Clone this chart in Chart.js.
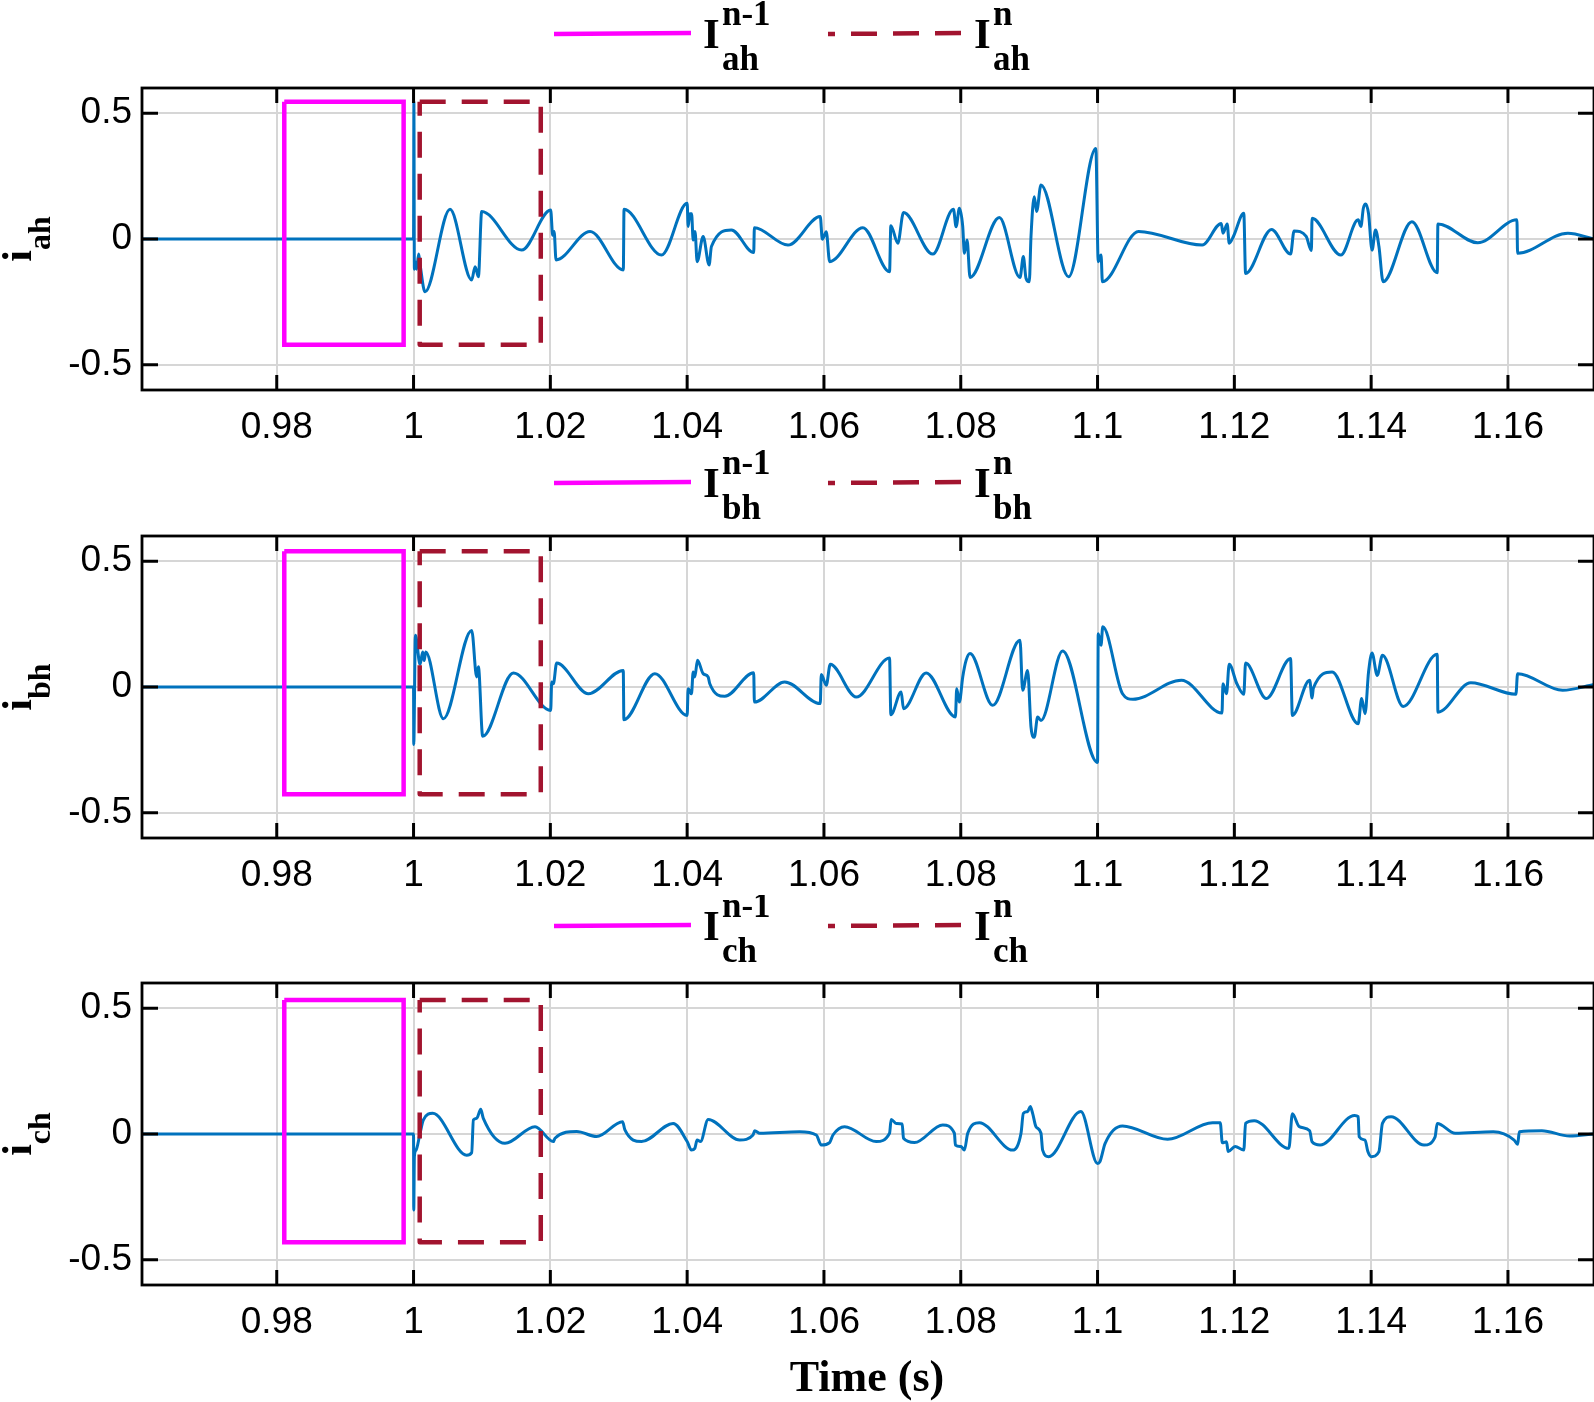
<!DOCTYPE html>
<html>
<head>
<meta charset="utf-8">
<script src="https://cdn.jsdelivr.net/npm/chart.js@4.4.1/dist/chart.umd.min.js"></script>
<style>
body { margin: 0; background: #fff; }
#wrap { position: relative; width: 1594px; height: 1402px; overflow: hidden; }
canvas { position: absolute; left: 0; }
</style>
</head>
<body>
<div id="wrap">
<canvas id="pa" width="1594" height="448" style="top:0px"></canvas>
<canvas id="pb" width="1594" height="447" style="top:448px"></canvas>
<canvas id="pc" width="1594" height="507" style="top:895px"></canvas>
</div>
<script>
// axis ticks
const xTicks = [0.98, 1.0, 1.02, 1.04, 1.06, 1.08, 1.1, 1.12, 1.14, 1.16];
const yTicks = [-0.5, 0, 0.5];

// i_ah
const tA = [0.9603, 1.0, 1.00005, 1.00012, 1.00024, 1.00045, 1.00075, 1.00095, 1.00168, 1.00533, 1.0085, 1.009, 1.00948, 1.00996, 1.0158, 1.02005, 1.02034, 1.02055, 1.02083, 1.0258, 1.03067, 1.03077, 1.03625, 1.04, 1.04015, 1.04039, 1.04065, 1.04088, 1.04115, 1.04146, 1.04234, 1.04321, 1.04355, 1.04647, 1.04973, 1.04983, 1.05474, 1.05946, 1.05976, 1.06034, 1.06083, 1.06569, 1.06959, 1.06978, 1.0708, 1.07163, 1.07591, 1.07893, 1.07932, 1.0798, 1.08029, 1.08053, 1.08092, 1.08136, 1.08564, 1.08866, 1.08915, 1.08954, 1.09002, 1.09027, 1.09075, 1.09109, 1.09173, 1.09577, 1.09975, 1.1001, 1.10051, 1.10071, 1.106, 1.1153, 1.11809, 1.11834, 1.11895, 1.11925, 1.11986, 1.12138, 1.12164, 1.12544, 1.12822, 1.12873, 1.1305, 1.13126, 1.13136, 1.13557, 1.1381, 1.1385, 1.13886, 1.13922, 1.13962, 1.14013, 1.14064, 1.14114, 1.14175, 1.14596, 1.14966, 1.14976, 1.15558, 1.16131, 1.16141, 1.16876, 1.17258];
const iA = [0, 0, 0.546, -0.12, -0.09, -0.12, -0.06, -0.10, -0.21, 0.118, -0.163, -0.11, -0.15, 0.109, -0.044, 0.115, 0.015, 0.03, -0.083, 0.03, -0.123, 0.118, -0.064, 0.142, 0.05, 0.10, 0.10, -0.004, 0.03, -0.09, 0.01, -0.103, -0.03, 0.036, -0.054, 0.045, -0.024, 0.089, -0.001, 0.029, -0.09, 0.045, -0.13, 0.053, -0.017, 0.105, -0.06, 0.118, 0.049, 0.122, 0.049, -0.057, -0.004, -0.153, 0.085, -0.153, -0.07, -0.156, -0.17, 0.01, 0.168, 0.109, 0.215, -0.15, 0.36, -0.09, -0.064, -0.17, 0.03, -0.024, 0.062, 0.023, 0.06, -0.017, 0.01, 0.102, -0.137, 0.038, -0.06, 0.032, 0.01, -0.046, 0.082, -0.064, 0.076, 0.05, 0.122, 0.139, 0.1, -0.044, 0.036, -0.03, -0.17, 0.069, -0.134, 0.06, -0.015, 0.076, -0.057, 0.023, 0];

// i_bh
const tB = [0.9603, 1.0, 1.00003, 1.00027, 1.00095, 1.00134, 1.00155, 1.00178, 1.00436, 1.0085, 1.00923, 1.00948, 1.01011, 1.01459, 1.02005, 1.0202, 1.02044, 1.02092, 1.02555, 1.03066, 1.03075, 1.03528, 1.04, 1.04015, 1.04063, 1.04088, 1.04112, 1.04151, 1.04234, 1.04307, 1.04331, 1.0455, 1.04973, 1.04983, 1.05426, 1.05946, 1.05961, 1.06034, 1.06092, 1.06472, 1.06959, 1.06978, 1.07129, 1.07163, 1.07494, 1.07922, 1.07941, 1.0798, 1.08029, 1.08078, 1.08136, 1.08467, 1.08866, 1.08905, 1.08978, 1.09027, 1.09075, 1.09124, 1.09173, 1.09489, 1.1, 1.1001, 1.10051, 1.10076, 1.10365, 1.10517, 1.11226, 1.11819, 1.11834, 1.11885, 1.11925, 1.12037, 1.12138, 1.12164, 1.12468, 1.12822, 1.12848, 1.13101, 1.13136, 1.13155, 1.1343, 1.1381, 1.13861, 1.13911, 1.13962, 1.14013, 1.14089, 1.14165, 1.14469, 1.14966, 1.14976, 1.15457, 1.16116, 1.16141, 1.168, 1.17258];
const iB = [0, 0, -0.228, 0.206, 0.09, 0.139, 0.105, 0.139, -0.126, 0.225, 0.04, 0.08, -0.196, 0.056, -0.093, 0.02, 0.013, 0.095, -0.027, 0.066, -0.13, 0.053, -0.113, -0.007, -0.027, 0.06, 0.04, 0.106, 0.053, 0.04, 0.013, -0.037, 0.057, -0.06, 0.02, -0.066, 0.05, 0.007, 0.09, -0.04, 0.115, -0.11, -0.02, -0.086, 0.056, -0.119, -0.007, -0.06, 0.04, 0.106, 0.133, -0.073, 0.186, -0.013, 0.066, -0.159, -0.2, -0.119, -0.133, 0.143, -0.3, 0.212, 0.166, 0.239, -0.027, -0.049, 0.027, -0.103, 0.013, -0.027, 0.09, 0.013, -0.029, 0.095, -0.046, 0.113, -0.113, 0.027, -0.044, -0.005, 0.06, -0.146, -0.046, -0.106, 0.06, 0.135, 0.046, 0.126, -0.077, 0.13, -0.1, 0.017, -0.029, 0.053, -0.013, 0.01];

// i_ch
const tC = [0.9603, 1.0, 1.00003, 1.00012, 1.00036, 1.00095, 1.00144, 1.0028, 1.00777, 1.0085, 1.00875, 1.00923, 1.00982, 1.0102, 1.01337, 1.01776, 1.02044, 1.02068, 1.02385, 1.02677, 1.03056, 1.0309, 1.03333, 1.03796, 1.04, 1.04063, 1.04112, 1.04146, 1.04195, 1.04307, 1.04769, 1.04963, 1.04988, 1.05061, 1.05645, 1.05888, 1.05961, 1.06083, 1.06132, 1.06302, 1.06764, 1.06959, 1.06983, 1.07056, 1.07144, 1.07163, 1.07324, 1.07737, 1.07907, 1.07922, 1.08005, 1.08053, 1.08102, 1.08272, 1.08759, 1.08881, 1.08915, 1.08978, 1.09017, 1.09051, 1.091, 1.09173, 1.09197, 1.09284, 1.09756, 1.1, 1.10035, 1.10111, 1.10365, 1.11024, 1.11682, 1.11794, 1.11824, 1.11885, 1.1191, 1.12012, 1.12138, 1.12164, 1.1229, 1.12797, 1.12848, 1.12949, 1.13101, 1.13136, 1.13253, 1.13759, 1.1381, 1.13825, 1.13911, 1.13952, 1.14003, 1.14114, 1.14165, 1.14292, 1.14773, 1.14935, 1.14966, 1.15229, 1.15786, 1.16091, 1.16141, 1.16167, 1.16496, 1.16901, 1.17258];
const iC = [0, 0, -0.302, -0.09, -0.064, 0.003, 0.056, 0.082, -0.084, -0.074, 0.056, 0.062, 0.098, 0.062, -0.037, 0.029, -0.03, -0.017, 0.01, -0.01, 0.049, 0.016, -0.03, 0.042, -0.03, -0.064, -0.057, -0.024, -0.03, 0.058, -0.024, -0.004, 0.013, 0.003, 0.009, -0.004, -0.044, -0.034, -0.004, 0.029, -0.03, 0.003, 0.058, 0.042, 0.04, -0.017, -0.034, 0.036, 0.003, -0.044, -0.05, -0.064, 0.003, 0.045, -0.064, 0.003, 0.082, 0.089, 0.109, 0.082, 0.029, 0.003, -0.064, -0.09, 0.089, -0.117, -0.11, -0.037, 0.032, -0.021, 0.045, 0.045, -0.035, -0.031, -0.07, -0.05, -0.064, 0.042, 0.053, -0.057, 0.08, 0.029, 0.013, -0.031, -0.044, 0.074, 0.069, -0.011, -0.024, -0.07, -0.09, -0.07, 0.042, 0.069, -0.044, -0.011, 0.042, 0.003, 0.009, -0.024, -0.041, 0.009, 0.013, -0.008, 0];

// window boxes: previous cycle (n-1) and present cycle (n)
const boxPrevT = [0.9811, 0.99855];
const boxCurT = [1.0009, 1.0186];
const boxTop = [0.545, 0.539, 0.532];
const boxBottom = [-0.42, -0.426, -0.43];

const subs = ['ah', 'bh', 'ch'];

const BLUE = '#0072bd';
const MAGENTA = '#ff00ff';
const DARKRED = '#a2142f';
const SERIF = '"Liberation Serif", "Times New Roman", serif';
const SANS = '"Liberation Sans", Arial, sans-serif';

function rect(t, top, bottom) {
    return [
        {x: t[0], y: top}, {x: t[1], y: top}, {x: t[1], y: bottom},
        {x: t[0], y: bottom}, {x: t[0], y: top}
    ];
}

const decor = {
    id: 'decor',
    afterDraw(chart, args, opts) {
        const ctx = chart.ctx;
        const a = chart.chartArea;
        const xs = chart.scales.x;
        const ys = chart.scales.y;
        ctx.save();

        // frame + inward ticks
        ctx.strokeStyle = '#000';
        ctx.lineWidth = 3;
        ctx.beginPath();
        for (const v of xTicks) {
            const px = xs.getPixelForValue(v);
            ctx.moveTo(px, a.top); ctx.lineTo(px, a.top + 15);
            ctx.moveTo(px, a.bottom); ctx.lineTo(px, a.bottom - 15);
        }
        for (const v of yTicks) {
            const py = ys.getPixelForValue(v);
            ctx.moveTo(a.left, py); ctx.lineTo(a.left + 16, py);
            ctx.moveTo(a.right, py); ctx.lineTo(a.right - 16, py);
        }
        ctx.stroke();
        ctx.lineWidth = 2.8;
        ctx.strokeRect(a.left, a.top, a.right - a.left, a.bottom - a.top);

        // legend
        const dy = opts.dy;
        ctx.lineWidth = 4.5;
        ctx.strokeStyle = MAGENTA;
        ctx.beginPath();
        ctx.moveTo(554, 34 + dy); ctx.lineTo(691, 33 + dy);
        ctx.stroke();
        ctx.strokeStyle = DARKRED;
        ctx.setLineDash([26, 16]);
        ctx.lineDashOffset = 19;
        ctx.beginPath();
        ctx.moveTo(828, 34 + dy); ctx.lineTo(965, 33 + dy);
        ctx.stroke();
        ctx.setLineDash([]);

        ctx.fillStyle = '#000';
        ctx.textBaseline = 'alphabetic';
        ctx.textAlign = 'left';
        ctx.font = 'bold 43px ' + SERIF;
        ctx.fillText('I', 703, 48 + dy);
        ctx.fillText('I', 974, 48 + dy);
        ctx.font = 'bold 35px ' + SERIF;
        ctx.fillText('n-1', 722, 25 + dy);
        ctx.fillText(opts.sub, 722, 70 + dy);
        ctx.fillText('n', 993, 25 + dy);
        ctx.fillText(opts.sub, 993, 70 + dy);

        // y axis title, rotated
        ctx.translate(31, (a.top + a.bottom) / 2);
        ctx.rotate(-Math.PI / 2);
        ctx.font = 'bold 42px ' + SERIF;
        const wi = ctx.measureText('i').width;
        ctx.font = 'bold 32px ' + SERIF;
        const ws = ctx.measureText(opts.sub).width;
        const x0 = -(wi + ws) / 2;
        ctx.font = 'bold 42px ' + SERIF;
        ctx.fillText('i', x0, 0);
        ctx.font = 'bold 32px ' + SERIF;
        ctx.fillText(opts.sub, x0 + wi, 19);
        ctx.setTransform(1, 0, 0, 1, 0, 0);

        if (opts.xTitle) {
            ctx.font = 'bold 44px ' + SERIF;
            ctx.textAlign = 'center';
            ctx.fillText(opts.xTitle, 867, 496);
        }
        ctx.restore();
    }
};

function makePanel(id, t, vals, k, xTitle) {
    const canvas = document.getElementById(id);
    const H = canvas.height;
    const signal = t.map((x, j) => ({x: x, y: vals[j]}));
    return new Chart(canvas, {
        type: 'line',
        data: {
            datasets: [
                {
                    data: rect(boxPrevT, boxTop[k], boxBottom[k]),
                    borderColor: MAGENTA,
                    borderWidth: 4.5,
                    pointRadius: 0,
                    borderJoinStyle: 'miter'
                },
                {
                    data: rect(boxCurT, boxTop[k], boxBottom[k]),
                    borderColor: DARKRED,
                    borderWidth: 4.5,
                    borderDash: [26, 16],
                    pointRadius: 0,
                    borderJoinStyle: 'round'
                },
                {
                    data: signal,
                    borderColor: BLUE,
                    borderWidth: 3,
                    pointRadius: 0,
                    cubicInterpolationMode: 'monotone'
                }
            ]
        },
        options: {
            responsive: false,
            animation: false,
            devicePixelRatio: 1,
            layout: { padding: { top: 88, left: 0, right: 0, bottom: 0 } },
            plugins: {
                legend: { display: false },
                tooltip: { enabled: false },
                decor: { sub: subs[k], dy: [0, 1, -3][k], xTitle: xTitle }
            },
            scales: {
                x: {
                    type: 'linear',
                    min: 0.9603,
                    max: 1.17258,
                    afterBuildTicks: s => { s.ticks = xTicks.map(v => ({value: v})); },
                    afterFit: s => { s.height = H - 390; },
                    grid: { color: '#d6d6d6', lineWidth: 2, drawTicks: false },
                    border: { display: false },
                    ticks: {
                        color: '#000',
                        padding: 16,
                        maxRotation: 0,
                        autoSkip: false,
                        font: { family: SANS, size: 37 },
                        callback: v => String(+v.toFixed(2))
                    }
                },
                y: {
                    type: 'linear',
                    min: -0.6,
                    max: 0.6,
                    afterBuildTicks: s => { s.ticks = yTicks.map(v => ({value: v})); },
                    afterFit: s => { s.width = 142; },
                    grid: { color: '#d6d6d6', lineWidth: 2, drawTicks: false },
                    border: { display: false },
                    ticks: {
                        color: '#000',
                        padding: 10,
                        font: { family: SANS, size: 37 },
                        callback: v => String(v)
                    }
                }
            }
        },
        plugins: [decor]
    });
}

makePanel('pa', tA, iA, 0, null);
makePanel('pb', tB, iB, 1, null);
makePanel('pc', tC, iC, 2, 'Time (s)');
</script>
</body>
</html>
